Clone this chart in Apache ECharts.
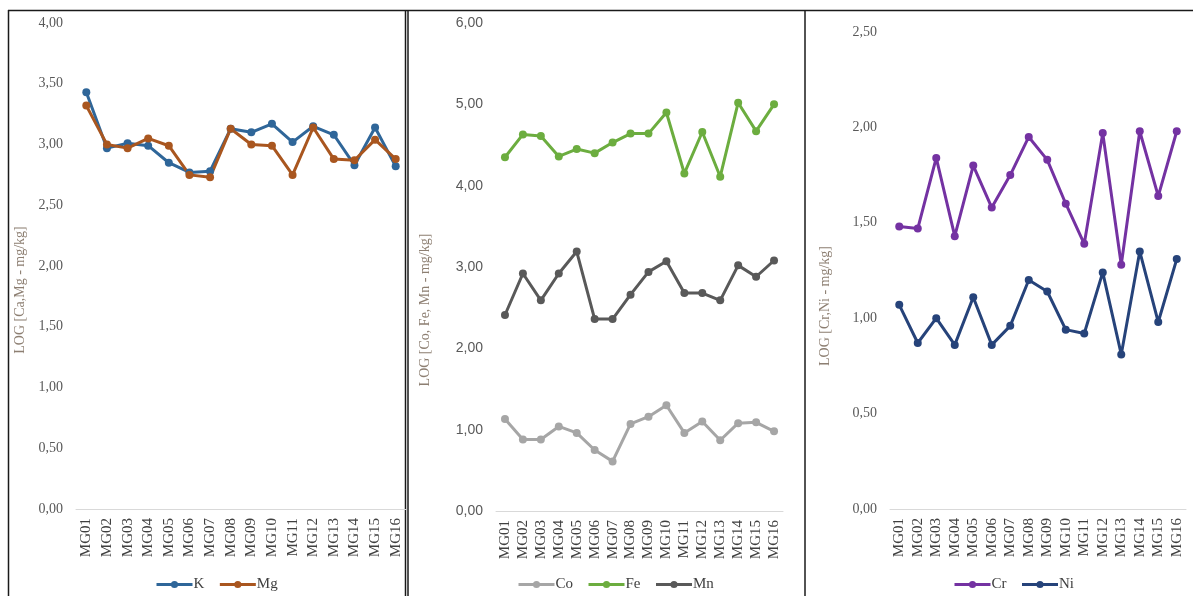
<!DOCTYPE html>
<html><head><meta charset="utf-8">
<script src="https://cdn.jsdelivr.net/npm/echarts@6/dist/echarts.min.js"></script>
<style>html,body{margin:0;padding:0;background:#fff}#c{width:1193px;height:596px}</style>
</head><body><div id="c"></div>
<script>
const categories = ['MG01','MG02','MG03','MG04','MG05','MG06','MG07','MG08','MG09','MG10','MG11','MG12','MG13','MG14','MG15','MG16'];
const K  = [3.43,2.97,3.01,2.99,2.85,2.77,2.78,3.13,3.10,3.17,3.02,3.15,3.08,2.83,3.14,2.82];
const Mg = [3.32,3.00,2.97,3.05,2.99,2.75,2.73,3.13,3.00,2.99,2.75,3.14,2.88,2.87,3.04,2.88];
const Co = [1.13,0.88,0.88,1.04,0.96,0.75,0.61,1.07,1.16,1.30,0.96,1.10,0.87,1.08,1.09,0.98];
const Fe = [4.35,4.63,4.61,4.36,4.45,4.40,4.53,4.64,4.64,4.90,4.15,4.66,4.11,5.02,4.67,5.00];
const Mn = [2.41,2.92,2.59,2.92,3.19,2.36,2.36,2.66,2.94,3.07,2.68,2.68,2.59,3.02,2.88,3.08];
const Cr = [1.48,1.47,1.84,1.43,1.80,1.58,1.75,1.95,1.83,1.60,1.39,1.97,1.28,1.98,1.64,1.98];
const Ni = [1.07,0.87,1.00,0.86,1.11,0.86,0.96,1.20,1.14,0.94,0.92,1.24,0.81,1.35,0.98,1.31];
const yTitles = ['LOG [Ca,Mg - mg/kg]','LOG [Co, Fe, Mn - mg/kg]','LOG [Cr,Ni - mg/kg]'];

const serif = '"Liberation Serif","DejaVu Serif",serif';
const sans = '"Liberation Sans",Arial,sans-serif';
const fmt = v => v.toFixed(2).replace('.', ',');

const grids = [
  {left:76, top:23, width:330, height:486},
  {left:496, top:23, width:287, height:488},
  {left:890, top:32, width:296, height:477}
];
const yCfg = [
  {min:0, max:4, interval:0.5, font:serif},
  {min:0, max:6, interval:1, font:sans},
  {min:0, max:2.5, interval:0.5, font:serif}
];
const xAxis = grids.map((g,i)=>({
  type:'category', gridIndex:i, data:categories, boundaryGap:true,
  axisLine:{lineStyle:{color:'#d9d9d9', width:1}}, axisTick:{show:false},
  axisLabel:{rotate:90, fontFamily:serif, fontSize:15, color:'#404040', margin:9, interval:0}
}));
const yAxis = yCfg.map((c,i)=>({
  type:'value', gridIndex:i, min:c.min, max:c.max, interval:c.interval,
  splitLine:{show:false}, axisLine:{show:false}, axisTick:{show:false},
  axisLabel:{formatter:fmt, fontFamily:c.font, fontSize:14, color:'#595959', margin:13}
}));
function s(name, data, color, gi){
  return {name, type:'line', data, xAxisIndex:gi, yAxisIndex:gi, symbol:'circle', symbolSize:8,
    lineStyle:{color, width:3}, itemStyle:{color}, emphasis:{disabled:true}, animation:false};
}
const series = [
  s('K', K, '#2f6699', 0), s('Mg', Mg, '#a9561f', 0),
  s('Co', Co, '#a6a6a6', 1), s('Fe', Fe, '#6cad3f', 1), s('Mn', Mn, '#595959', 1),
  s('Cr', Cr, '#7432a2', 2), s('Ni', Ni, '#26437a', 2)
];
const legBase = {orient:'horizontal', itemWidth:36, itemHeight:9, itemGap:14, top:572,
  lineStyle:{width:3}, itemStyle:{borderWidth:0},
  textStyle:{fontFamily:serif, fontSize:15, color:'#404040', padding:[0,0,0,-4]}};
const legend = [
  Object.assign({}, legBase, {data:['K','Mg'], left:150}),
  Object.assign({}, legBase, {data:['Co','Fe','Mn'], left:512}),
  Object.assign({}, legBase, {data:['Cr','Ni'], left:948})
];
const bc = '#1a1a1a';
const graphic = [
  {type:'line', shape:{x1:8,y1:10.5,x2:1193,y2:10.5}, style:{stroke:bc, lineWidth:1.5}},
  {type:'line', shape:{x1:8.5,y1:10,x2:8.5,y2:596}, style:{stroke:bc, lineWidth:1.5}},
  {type:'line', shape:{x1:405.5,y1:10,x2:405.5,y2:596}, style:{stroke:bc, lineWidth:1.5}},
  {type:'line', shape:{x1:408,y1:10,x2:408,y2:596}, style:{stroke:bc, lineWidth:1.5}},
  {type:'line', shape:{x1:805,y1:10,x2:805,y2:596}, style:{stroke:bc, lineWidth:1.5}},
  {type:'text', x:20, y:290, rotation:Math.PI/2, style:{text:yTitles[0], fontFamily:serif, fontSize:14, fill:'#8d7f72', align:'center', verticalAlign:'middle'}},
  {type:'text', x:425, y:310, rotation:Math.PI/2, style:{text:yTitles[1], fontFamily:serif, fontSize:14, fill:'#8d7f72', align:'center', verticalAlign:'middle'}},
  {type:'text', x:825, y:306, rotation:Math.PI/2, style:{text:yTitles[2], fontFamily:serif, fontSize:14, fill:'#8d7f72', align:'center', verticalAlign:'middle'}}
];
const chart = echarts.init(document.getElementById('c'), null, {renderer:'canvas'});
chart.setOption({animation:false, backgroundColor:'#fff', grid:grids, xAxis, yAxis, series, legend, graphic});
</script></body></html>
